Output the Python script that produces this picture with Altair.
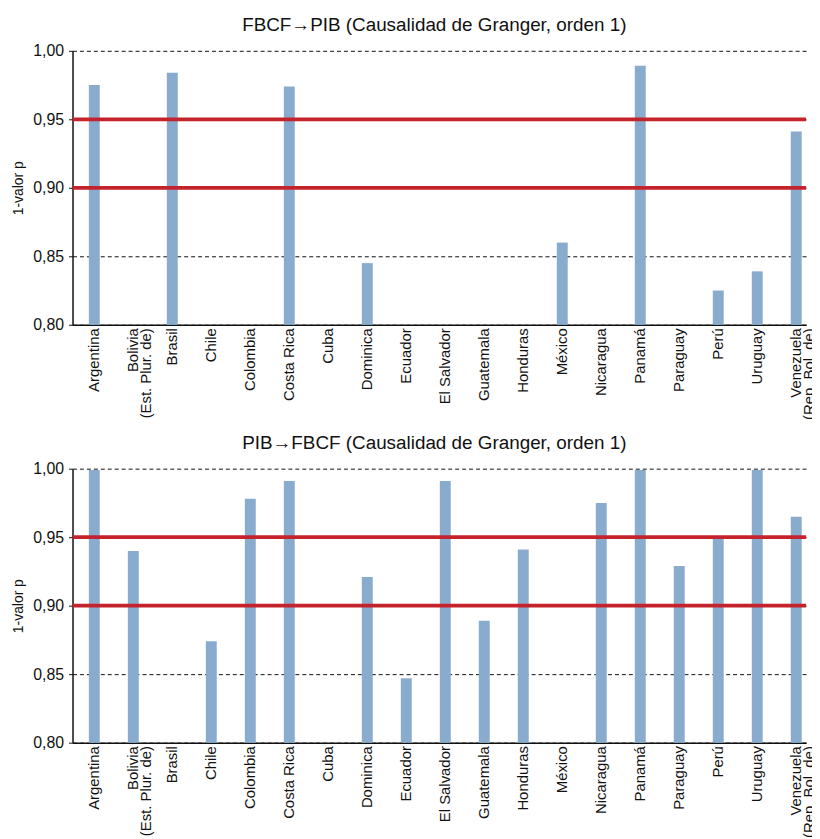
import altair as alt
import pandas as pd

countries = ["Argentina", "Bolivia\n(Est. Plur. de)", "Brasil", "Chile", "Colombia",
             "Costa Rica", "Cuba", "Dominica", "Ecuador", "El Salvador", "Guatemala",
             "Honduras", "México", "Nicaragua", "Panamá", "Paraguay", "Perú", "Uruguay",
             "Venezuela\n(Rep. Bol. de)"]
fbcf_pib = [0.975, None, 0.984, None, None, 0.974, None, 0.845, None, None, None,
            None, 0.860, None, 0.989, None, 0.825, 0.839, 0.941]
pib_fbcf = [0.999, 0.940, None, 0.874, 0.978, 0.991, None, 0.921, 0.847, 0.991, 0.889,
            0.941, None, 0.975, 0.999, 0.929, 0.949, 0.999, 0.965]
thresholds = [0.95, 0.90]
y_ticks = [0.80, 0.85, 0.90, 0.95, 1.00]
titles = ["FBCF\u2192PIB (Causalidad de Granger, orden 1)",
          "PIB\u2192FBCF (Causalidad de Granger, orden 1)"]

W, H = 739, 276


def panel(values, title):
    df = pd.DataFrame({"pais": countries, "v": values})
    bars = alt.Chart(df).mark_bar(color="#89acce").encode(
        x=alt.X("pais:N", sort=countries,
                scale=alt.Scale(domain=countries, paddingInner=0.72, paddingOuter=0.265,
                                align=0.79),
                axis=alt.Axis(title=None, labelAngle=270, ticks=False, labelFontSize=15,
                              labelLineHeight=13, labelPadding=3, labelColor="#111",
                              labelExpr="split(datum.label, '\\n')",
                              domainColor="#111", domainWidth=1.5, grid=False)),
        y=alt.Y("v:Q", scale=alt.Scale(domain=[0.8, 1.0], nice=False, zero=False),
                axis=alt.Axis(title="1-valor p", values=y_ticks, grid=True,
                              gridDash=[4, 3], gridColor="#111", gridWidth=1,
                              labelExpr="replace(format(datum.value, '.2f'), '.', ',')",
                              labelFontSize=16, labelColor="#111", tickColor="#111",
                              tickSize=4, labelPadding=5, domainColor="#111",
                              domainWidth=1.5, titleFontSize=14, titleFontWeight="normal",
                              titleColor="#111", titlePadding=7)),
        y2=alt.datum(0.8),
    )
    rules = alt.Chart(pd.DataFrame({"t": thresholds})).mark_rule(
        color="#c4232b", strokeWidth=3.8).encode(y="t:Q")
    return alt.layer(bars, rules).properties(
        width=W, height=H,
        title=alt.TitleParams(title, fontSize=19, fontWeight="normal", color="#111",
                              offset=8, dx=-5))


chart = alt.vconcat(panel(fbcf_pib, titles[0]), panel(pib_fbcf, titles[1]),
                    spacing=14).configure(font="Liberation Sans").configure_view(
    stroke=None).properties(padding={"top": 5, "left": 3, "right": -5, "bottom": 5})

chart.save("out.html", embed_options={"renderer": "svg", "actions": False})
